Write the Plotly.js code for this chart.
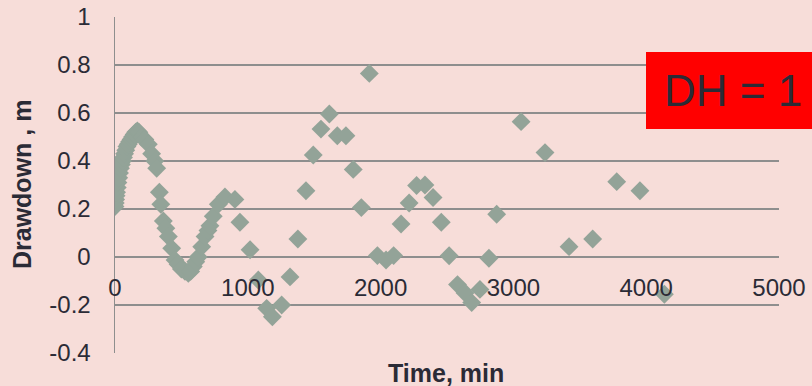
<!DOCTYPE html>
<html>
<head>
<meta charset="utf-8">
<script src="https://cdn.plot.ly/plotly-3.0.1.min.js"></script>
<style>
html,body{margin:0;padding:0;background:#f7ddd9;}
#chart{width:812px;height:386px;}
</style>
</head>
<body>
<div id="chart"></div>
<script>
// Time (min) and drawdown (m)
var timeMin = [
  0, 2, 5, 8, 12, 17, 22, 28, 34, 41, 48, 56, 64, 72, 81, 90, 100, 110, 121, 132, 144, 156, 168, 180,
  200, 225, 251, 276, 300, 314, 334, 345, 364, 383, 402, 427, 452, 475, 500, 527, 552,
  570, 590, 608, 627, 653, 678, 700, 715, 740, 778, 828, 903, 941,
  1017, 1079, 1142, 1185, 1255, 1318, 1377, 1438, 1493, 1551, 1614, 1674, 1739, 1794, 1855,
  1915, 1976, 2041, 2098, 2154, 2215, 2271, 2334, 2395, 2457, 2516, 2579, 2636, 2686, 2748,
  2816, 2874, 3058, 3238, 3419, 3597, 3778, 3953, 4137
];
var drawdown = [
  0.21, 0.225, 0.24, 0.255, 0.27, 0.29, 0.31, 0.33, 0.35, 0.37, 0.385, 0.40, 0.415, 0.43, 0.445, 0.46, 0.47, 0.48, 0.49, 0.50, 0.51, 0.52, 0.525, 0.52,
  0.50, 0.49, 0.47, 0.43, 0.40, 0.37, 0.27, 0.22, 0.15, 0.12, 0.085, 0.036, -0.013, -0.03, -0.05, -0.06, -0.068,
  -0.06, -0.04, -0.02, 0.0, 0.043, 0.085, 0.11, 0.13, 0.17, 0.22, 0.25, 0.24, 0.145,
  0.03, -0.096, -0.214, -0.249, -0.2, -0.083, 0.075, 0.276, 0.425, 0.533, 0.596, 0.505, 0.505, 0.365, 0.206,
  0.765, 0.006, -0.0125, 0.006, 0.1375, 0.225, 0.298, 0.30, 0.248, 0.145, 0.005, -0.115, -0.15, -0.19, -0.135,
  -0.005, 0.178, 0.564, 0.435, 0.043, 0.075, 0.314, 0.276, -0.155
];
var yTickVals = [-0.4, -0.2, 0, 0.2, 0.4, 0.6, 0.8, 1];
var yTickText = ["-0.4", "-0.2", "0", "0.2", "0.4", "0.6", "0.8", "1"];
var xTickVals = [0, 1000, 2000, 3000, 4000, 5000];
var xTickText = ["0", "1000", "2000", "3000", "4000", "5000"];
var xTitle = "Time, min";
var yTitle = "Drawdown , m";
var boxLabel = "DH = 1";

var FONT = "Liberation Sans, Arial, sans-serif";
var TXT = "#2b2b36";
var GRID = "#8e8e8e";
var BG = "#f7ddd9";

var trace = {
  x: timeMin, y: drawdown, type: "scatter", mode: "markers",
  marker: {symbol: "diamond", size: 14.5, color: "#93a398", line: {width: 0}},
  hoverinfo: "x+y", showlegend: false
};

var layout = {
  width: 812, height: 386,
  paper_bgcolor: BG, plot_bgcolor: BG,
  margin: {l: 115, r: 33, t: 17, b: 33, pad: 0},
  font: {family: FONT, size: 24, color: TXT},
  xaxis: {
    range: [0, 5000], anchor: "free", position: 0.4 / 1.4,
    tickmode: "array", tickvals: xTickVals, ticktext: xTickText,
    showgrid: false, zeroline: false, showline: false, ticks: "",
    ticklabelstandoff: 14,
    tickfont: {family: FONT, size: 24, color: TXT}
  },
  yaxis: {
    range: [-0.4, 1], tickmode: "array", tickvals: yTickVals, ticktext: yTickText,
    showgrid: true, gridcolor: GRID, gridwidth: 1.5,
    zeroline: false, showline: true, linecolor: GRID, linewidth: 1.5,
    ticks: "", ticklabelstandoff: 18,
    tickfont: {family: FONT, size: 24, color: TXT}
  },
  shapes: [{
    type: "rect", xref: "paper", yref: "paper",
    x0: 0.7997, x1: 1.08, y0: 0.6667, y1: 0.8958,
    fillcolor: "#ff0000", line: {width: 0}, layer: "above"
  }],
  annotations: [
    {text: "<b>" + xTitle + "</b>", xref: "paper", yref: "paper", x: 0.4985, y: -0.015,
     xanchor: "center", yanchor: "top", showarrow: false, borderpad: 0,
     font: {family: FONT, size: 25, color: TXT}},
    {text: "<b>" + yTitle + "</b>", xref: "paper", yref: "paper", x: -0.14, y: 0.5,
     xanchor: "center", yanchor: "middle", textangle: -90, showarrow: false, borderpad: 0,
     font: {family: FONT, size: 25, color: TXT}},
    {text: boxLabel, xref: "paper", yref: "paper", x: 0.826, y: 0.78,
     xanchor: "left", yanchor: "middle", showarrow: false, borderpad: 0,
     font: {family: FONT, size: 44, color: TXT}}
  ]
};

Plotly.newPlot("chart", [trace], layout, {displayModeBar: false, staticPlot: true});
</script>
</body>
</html>
